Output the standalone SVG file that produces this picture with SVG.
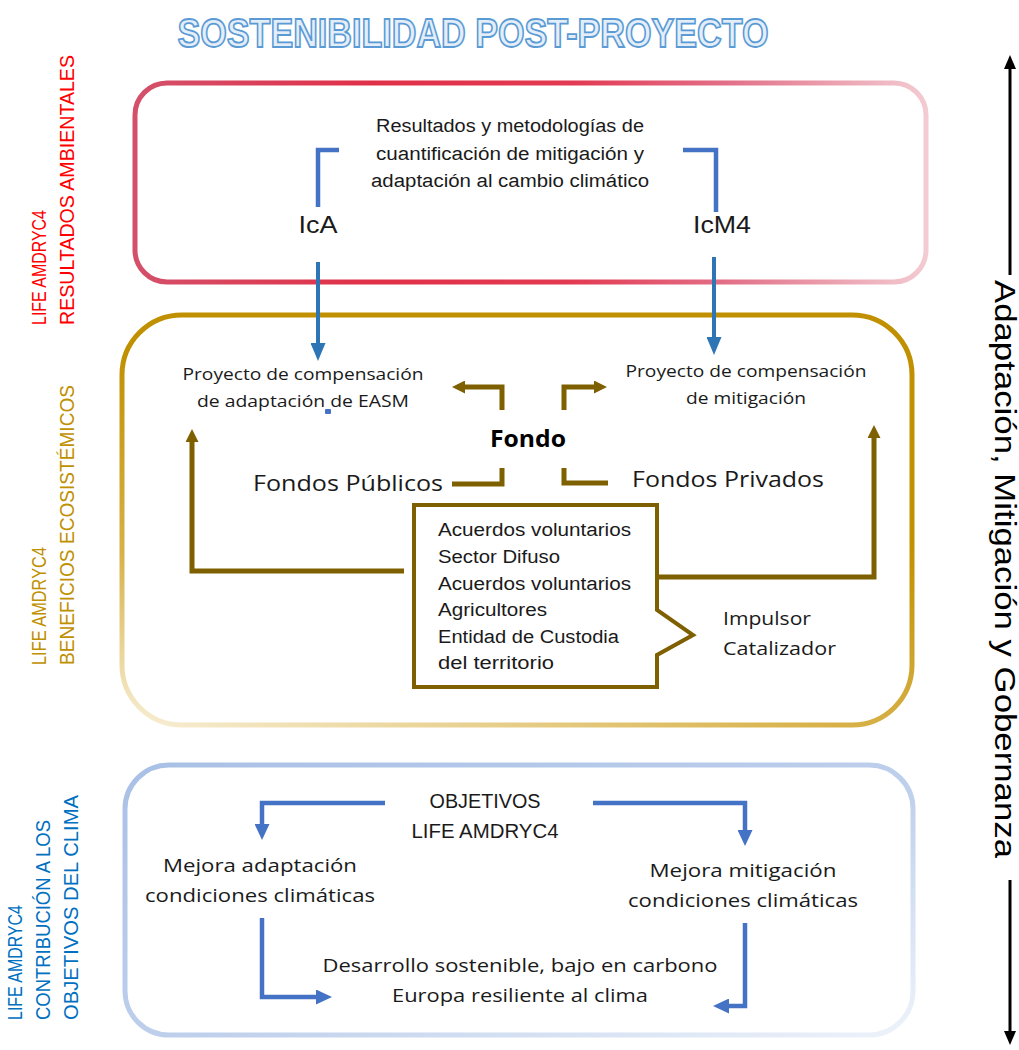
<svg xmlns="http://www.w3.org/2000/svg" width="1019" height="1050" viewBox="0 0 1019 1050">
<defs>
<linearGradient id="gRed" x1="0" y1="0" x2="1" y2="0">
<stop offset="0" stop-color="#d4506a"/>
<stop offset="0.3" stop-color="#e03048"/>
<stop offset="0.55" stop-color="#e23a52"/>
<stop offset="0.75" stop-color="#e27088"/>
<stop offset="1" stop-color="#f3cbd2"/>
</linearGradient>
<linearGradient id="gGold" x1="0" y1="1" x2="0.35" y2="0.25">
<stop offset="0" stop-color="#f8efd6"/>
<stop offset="0.45" stop-color="#d8b24a"/>
<stop offset="1" stop-color="#c09000"/>
</linearGradient>
<linearGradient id="gBlue" x1="0" y1="0" x2="1" y2="1">
<stop offset="0" stop-color="#a9c0e6"/>
<stop offset="0.55" stop-color="#bfd0ec"/>
<stop offset="1" stop-color="#eef3fa"/>
</linearGradient>
<marker id="mBlueTop" viewBox="0 0 18 15" refX="6" refY="7.5" markerWidth="18" markerHeight="15" markerUnits="userSpaceOnUse" orient="auto">
<path d="M0,0 L18,7.5 L0,15 Z" fill="#2e75b6"/>
</marker>
<marker id="mBlue" viewBox="0 0 16 15" refX="5" refY="7.5" markerWidth="16" markerHeight="15" markerUnits="userSpaceOnUse" orient="auto">
<path d="M0,0 L16,7.5 L0,15 Z" fill="#4472c4"/>
</marker>
<marker id="mBrown" viewBox="0 0 13 13" refX="4" refY="6.5" markerWidth="13" markerHeight="13" markerUnits="userSpaceOnUse" orient="auto">
<path d="M0,0 L13,6.5 L0,13 Z" fill="#7f6000"/>
</marker>
<marker id="mBlack" viewBox="0 0 14 12" refX="4" refY="6" markerWidth="14" markerHeight="12" markerUnits="userSpaceOnUse" orient="auto">
<path d="M0,0 L14,6 L0,12 Z" fill="#000"/>
</marker>
</defs>
<style>
text { fill: #1a1a1a; }
.narrow { font-family: "Liberation Sans", Arial, sans-serif; }
.open { font-family: "Open Sans", "Liberation Sans", sans-serif; }
.c { text-anchor: middle; }
.side { font-family: "Liberation Sans", Arial, sans-serif; font-size: 21px; }
.red { fill: #ff0000; }
.gold { fill: #bf9000; }
.blu { fill: #0070c0; }
.ln { fill: none; stroke-linejoin: miter; }
.bt { stroke: #2e75b6; stroke-width: 4; }
.bl { stroke: #4472c4; stroke-width: 4.5; }
.br { stroke: #7f6000; stroke-width: 5; }
.bk { stroke: #000; stroke-width: 3; }
</style>
<rect width="1019" height="1050" fill="#ffffff"/>

<text id="title" x="473" y="47" class="c" font-family="'Liberation Sans', Arial, sans-serif" font-weight="bold" font-size="40" textLength="591" lengthAdjust="spacingAndGlyphs" style="fill:#e4eef9;stroke:#5b9bd5;stroke-width:1.8">SOSTENIBILIDAD POST-PROYECTO</text>

<g id="side-labels">
<text class="side red" transform="translate(46,325) rotate(-90)" textLength="115" lengthAdjust="spacingAndGlyphs">LIFE AMDRYC4</text>
<text class="side red" transform="translate(74,325) rotate(-90)" textLength="270" lengthAdjust="spacingAndGlyphs">RESULTADOS AMBIENTALES</text>
<text class="side gold" transform="translate(46,665) rotate(-90)" textLength="118" lengthAdjust="spacingAndGlyphs">LIFE AMDRYC4</text>
<text class="side gold" transform="translate(74,665) rotate(-90)" textLength="280" lengthAdjust="spacingAndGlyphs">BENEFICIOS ECOSISTÉMICOS</text>
<text class="side blu" transform="translate(22,1020) rotate(-90)" textLength="115" lengthAdjust="spacingAndGlyphs">LIFE AMDRYC4</text>
<text class="side blu" transform="translate(50,1020) rotate(-90)" textLength="200" lengthAdjust="spacingAndGlyphs">CONTRIBUCIÓN A LOS</text>
<text class="side blu" transform="translate(78,1020) rotate(-90)" textLength="225" lengthAdjust="spacingAndGlyphs">OBJETIVOS DEL CLIMA</text>
</g>

<g id="axis">
<text transform="translate(995,569) rotate(90)" class="c" font-family="'Liberation Sans', Arial, sans-serif" font-size="29" textLength="578" lengthAdjust="spacingAndGlyphs" style="fill:#000">Adaptación, Mitigación y Gobernanza</text>
</g>

<g id="box-resultados">
<rect x="135" y="83" width="791" height="199" rx="32" fill="none" stroke="url(#gRed)" stroke-width="5"/>
<text class="narrow c" x="510" y="132" font-size="18" textLength="268" lengthAdjust="spacingAndGlyphs">Resultados y metodologías de</text>
<text class="narrow c" x="510" y="160" font-size="18" textLength="268" lengthAdjust="spacingAndGlyphs">cuantificación de mitigación y</text>
<text class="narrow c" x="510" y="187" font-size="18" textLength="278" lengthAdjust="spacingAndGlyphs">adaptación al cambio climático</text>
</g>
<g id="node-ica"><text class="narrow c" x="318" y="233" font-size="24" textLength="39" lengthAdjust="spacingAndGlyphs">IcA</text></g>
<g id="node-icm4"><text class="narrow c" x="722" y="233" font-size="24" textLength="58" lengthAdjust="spacingAndGlyphs">IcM4</text></g>

<g id="box-beneficios">
<rect x="122" y="315" width="790" height="410" rx="60" fill="none" stroke="url(#gGold)" stroke-width="5"/>
</g>
<g id="node-proy-adapt">
<text class="open c" x="303" y="380" font-size="17" textLength="241" lengthAdjust="spacingAndGlyphs">Proyecto de compensación</text>
<text class="open c" x="303" y="407" font-size="17" textLength="212" lengthAdjust="spacingAndGlyphs">de adaptación de EASM</text>
<rect x="325" y="409" width="6" height="5" rx="1" fill="#4472c4"/>
</g>
<g id="node-proy-mitig">
<text class="open c" x="746" y="377" font-size="17" textLength="241" lengthAdjust="spacingAndGlyphs">Proyecto de compensación</text>
<text class="open c" x="746" y="404" font-size="17" textLength="120" lengthAdjust="spacingAndGlyphs">de mitigación</text>
</g>
<g id="node-fondo"><text class="open c" x="528" y="447" font-size="23" font-weight="bold" textLength="76" lengthAdjust="spacingAndGlyphs" style="fill:#000">Fondo</text></g>
<g id="node-publicos"><text class="open" x="253" y="491" font-size="22" textLength="190" lengthAdjust="spacingAndGlyphs">Fondos Públicos</text></g>
<g id="node-privados"><text class="open" x="632" y="487" font-size="22" textLength="192" lengthAdjust="spacingAndGlyphs">Fondos Privados</text></g>
<g id="node-acuerdos">
<path d="M414,505 H657 V610 L693,635 L657,655 V687 H414 Z" fill="#fff" stroke="#7f6000" stroke-width="4"/>
<text class="narrow" x="438" y="536" font-size="18" textLength="193" lengthAdjust="spacingAndGlyphs">Acuerdos voluntarios</text>
<text class="narrow" x="438" y="563" font-size="18" textLength="122" lengthAdjust="spacingAndGlyphs">Sector Difuso</text>
<text class="narrow" x="438" y="590" font-size="18" textLength="193" lengthAdjust="spacingAndGlyphs">Acuerdos voluntarios</text>
<text class="narrow" x="438" y="616" font-size="18" textLength="109" lengthAdjust="spacingAndGlyphs">Agricultores</text>
<text class="narrow" x="438" y="643" font-size="18" textLength="181" lengthAdjust="spacingAndGlyphs">Entidad de Custodia</text>
<text class="narrow" x="438" y="669" font-size="18" textLength="116" lengthAdjust="spacingAndGlyphs">del territorio</text>
</g>
<g id="node-impulsor">
<text class="open" x="723" y="625" font-size="19" textLength="88" lengthAdjust="spacingAndGlyphs">Impulsor</text>
<text class="open" x="723" y="655" font-size="19" textLength="113" lengthAdjust="spacingAndGlyphs">Catalizador</text>
</g>

<g id="box-contribucion">
<rect x="125" y="765" width="788" height="270" rx="44" fill="none" stroke="url(#gBlue)" stroke-width="5"/>
</g>
<g id="node-objetivos">
<text class="narrow c" x="485" y="808" font-size="20" textLength="111" lengthAdjust="spacingAndGlyphs">OBJETIVOS</text>
<text class="narrow c" x="485" y="838" font-size="20" textLength="147" lengthAdjust="spacingAndGlyphs">LIFE AMDRYC4</text>
</g>
<g id="node-mejora-adapt">
<text class="open c" x="260" y="872" font-size="19" textLength="194" lengthAdjust="spacingAndGlyphs">Mejora adaptación</text>
<text class="open c" x="260" y="902" font-size="19" textLength="230" lengthAdjust="spacingAndGlyphs">condiciones climáticas</text>
</g>
<g id="node-mejora-mitig">
<text class="open c" x="743" y="877" font-size="19" textLength="187" lengthAdjust="spacingAndGlyphs">Mejora mitigación</text>
<text class="open c" x="743" y="907" font-size="19" textLength="230" lengthAdjust="spacingAndGlyphs">condiciones climáticas</text>
</g>
<g id="node-desarrollo">
<text class="open c" x="520" y="972" font-size="19" textLength="395" lengthAdjust="spacingAndGlyphs">Desarrollo sostenible, bajo en carbono</text>
<text class="open c" x="520" y="1002" font-size="19" textLength="256" lengthAdjust="spacingAndGlyphs">Europa resiliente al clima</text>
</g>

<g id="connectors">
<path class="ln bl" d="M339,150 H318 V207"/>
<path class="ln bl" d="M683,150 H716 V212"/>
<path class="ln bt" d="M318,262 V349" marker-end="url(#mBlueTop)"/>
<path class="ln bt" d="M714,257 V343" marker-end="url(#mBlueTop)"/>
<path class="ln br" d="M502,410 V387 H461" marker-end="url(#mBrown)"/>
<path class="ln br" d="M564,410 V387 H598" marker-end="url(#mBrown)"/>
<path class="ln br" d="M502,468 V484 H452"/>
<path class="ln br" d="M564,468 V483 H608"/>
<path class="ln br" d="M404,571 H192 V438" marker-end="url(#mBrown)"/>
<path class="ln br" d="M657,577 H874 V434" marker-end="url(#mBrown)"/>
<path class="ln bl" d="M385,803 H262 V829" marker-end="url(#mBlue)"/>
<path class="ln bl" d="M593,803 H745 V835" marker-end="url(#mBlue)"/>
<path class="ln bl" d="M262,918 V997 H321" marker-end="url(#mBlue)"/>
<path class="ln bl" d="M745,923 V1006 H724" marker-end="url(#mBlue)"/>
<path class="ln bk" d="M1010,275 V65" marker-end="url(#mBlack)"/>
<path class="ln bk" d="M1010,880 V1035" marker-end="url(#mBlack)"/>
</g>
</svg>
